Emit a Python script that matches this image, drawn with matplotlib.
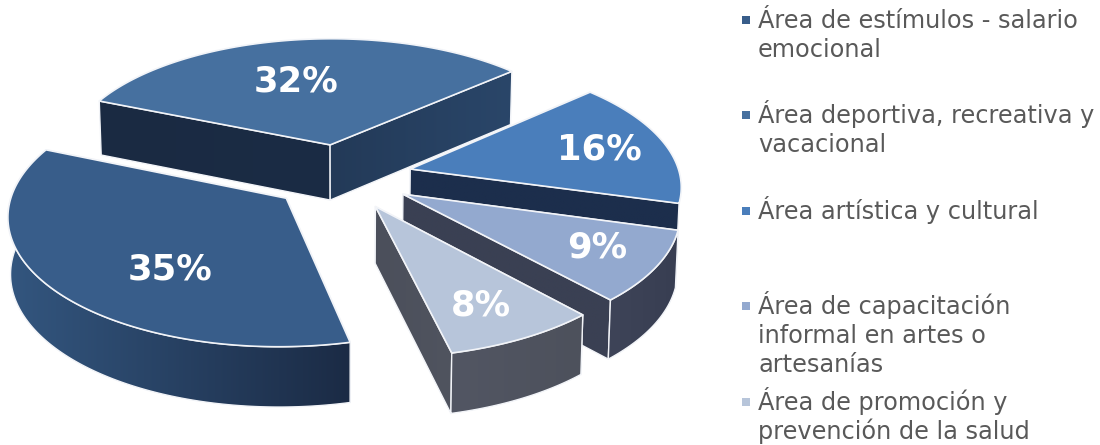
import matplotlib
matplotlib.use("Agg")
import matplotlib.pyplot as plt
from matplotlib.colors import to_rgb
from matplotlib.patches import Polygon
import numpy as np

# --- Data ---
values = [35, 32, 16, 9, 8]
percent_labels = ["35%", "32%", "16%", "9%", "8%"]
legend_labels = [
    ["Área de estímulos - salario", "emocional"],
    ["Área deportiva, recreativa y", "vacacional"],
    ["Área artística y cultural"],
    ["Área de capacitación", "informal en artes o", "artesanías"],
    ["Área de promoción y", "prevención de la salud"],
]

# --- Styling ---
top_colors = ["#385d8a", "#46709f", "#4a7ebb", "#93a9cf", "#b7c5da"]
legend_colors = ["#385d8a", "#46709f", "#4a7ebb", "#93a9cf", "#b7c5da"]
# rim gradient (left, right), wall at slice start, wall at slice end
rim_colors = [("#33567f", "#1b2b45"), ("#27405f", "#27405f"), ("#1c2e4c", "#1c2e4c"),
              ("#3e4458", "#383e52"), ("#525663", "#4d515c")]
start_walls = [("#2c3e5c", "#2c3e5c"), ("#1a2a42", "#1b2c45"), ("#1c2e4c", "#1c2e4c"),
               ("#3a4053", "#3a4053"), ("#4d515d", "#4d515d")]
end_walls = [("#2c3e5c", "#2c3e5c"), ("#233a58", "#2a4669"), ("#1c2e4c", "#1c2e4c"),
             ("#3a4053", "#3a4053"), ("#4b4f5b", "#50545f")]
label_xy = [(170, 269), (296, 82), (599, 150), (597, 248), (481, 306)]
legend_baselines = [28, 123, 219, 314, 410]
LINE_PITCH = 28.8
EDGE = "#f2f4f8"

# Pie geometry, in pixels of the flat pie plane
CX, CY = 341.6, 176.5
RADIUS = 270
EXPLODE = 71
TILT = 0.465
DEPTH = 2300
THICK = 56
START_ANGLE = -76.8
MIN_RIM_ARC = np.radians(20)  # shorter visible rims stay hidden behind the wall


def project(u, v, z=0.0):
    # perspective view of a point in the pie plane, z is distance below the top
    w = 1 - v / DEPTH
    x = CX + u / w * (1 - 0.008 * z / THICK)
    y = CY + TILT * v / w + z / np.sqrt(w)
    return np.column_stack([x, y])


def slice_points(offset, angles, z=0.0):
    u = offset[0] + RADIUS * np.cos(angles)
    v = offset[1] - RADIUS * np.sin(angles)
    return project(u, v, z)


def gradient_face(ax, points, colors, zorder):
    patch = Polygon(points, closed=True, facecolor="none", edgecolor=EDGE,
                    linewidth=1.0, joinstyle="round", zorder=zorder + 0.1)
    ax.add_patch(patch)
    c0, c1 = to_rgb(colors[0]), to_rgb(colors[1])
    ramp = np.linspace(c0, c1, 256)[np.newaxis, :, :]
    xmin, ymin = points.min(axis=0)
    xmax, ymax = points.max(axis=0)
    img = ax.imshow(ramp, extent=(xmin, xmax, ymax, ymin), aspect="auto",
                    interpolation="bilinear", zorder=zorder)
    img.set_clip_path(patch)


fig = plt.figure(figsize=(11, 4.45), dpi=100)
ax = fig.add_axes([0, 0, 1, 1])

fractions = np.array(values) / sum(values)
spans = np.radians(fractions * 360)
starts = np.radians(START_ANGLE) - np.concatenate([[0], np.cumsum(spans)[:-1]])
mids = starts - spans / 2
offsets = np.column_stack([EXPLODE * np.cos(mids), -EXPLODE * np.sin(mids)])

# paint the far slices first
order = np.argsort(offsets[:, 1])
for rank, i in enumerate(order):
    base = 10 * (rank + 1)
    angles = np.linspace(starts[i], starts[i] - spans[i], 200)
    offset = offsets[i]
    apex_top = project(offset[0], offset[1])
    apex_low = project(offset[0], offset[1], THICK)
    rim_top = slice_points(offset, angles)
    rim_low = slice_points(offset, angles, THICK)

    # radial walls; the top face hides what faces away
    walls = [
        (np.vstack([apex_top, rim_top[0], rim_low[0], apex_low]), start_walls[i]),
        (np.vstack([apex_top, rim_top[-1], rim_low[-1], apex_low]), end_walls[i]),
    ]
    for k, (pts, cols) in enumerate(walls):
        gradient_face(ax, pts, cols, base + k)

    # outer rim, only the part that faces the viewer
    arc = spans[i] * (np.sin(angles) < 0).mean()
    front = np.sin(angles) < 0.2
    if arc > MIN_RIM_ARC:
        pts = np.vstack([rim_top[front], rim_low[front][::-1]])
        gradient_face(ax, pts, rim_colors[i], base + 3)

    top = np.vstack([apex_top, rim_top])
    ax.add_patch(Polygon(top, closed=True, facecolor=top_colors[i], edgecolor=EDGE,
                         linewidth=1.2, joinstyle="round", zorder=base + 5))

for label, (x, y) in zip(percent_labels, label_xy):
    ax.text(x, y, label, color="white", fontsize=25.5, fontweight="bold",
            ha="center", va="center", zorder=100)

# legend
for lines, color, baseline in zip(legend_labels, legend_colors, legend_baselines):
    ax.scatter([745.5], [baseline - 8], marker="s", s=30, color=color, linewidths=0, zorder=100)
    for n, line in enumerate(lines):
        ax.text(758, baseline + n * LINE_PITCH, line, color="#595959", fontsize=17.3,
                ha="left", va="baseline", zorder=100)

ax.set_xlim(0, 1100)
ax.set_ylim(445, 0)
ax.axis("off")

fig.savefig("out.png", dpi=100, facecolor="white")
